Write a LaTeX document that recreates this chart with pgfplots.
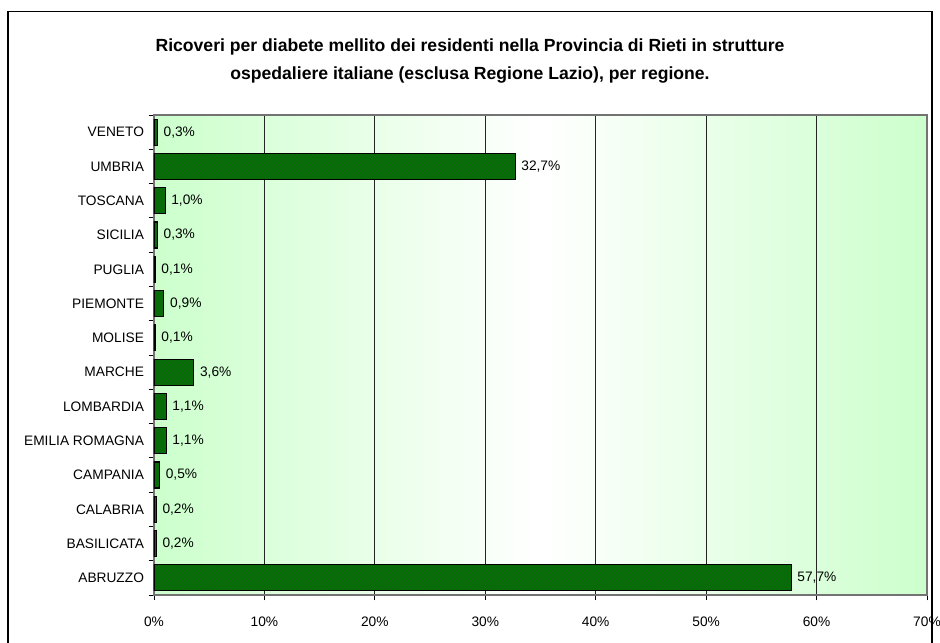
\documentclass[border=0pt]{standalone}
\usepackage{pgfplots}
\pgfplotsset{compat=1.18}
\usepackage{fontspec}
\setmainfont{Liberation Sans}
\usetikzlibrary{patterns}
\definecolor{barg}{RGB}{0,112,0}
\definecolor{bgg}{RGB}{204,255,204}
\begin{document}
\begin{tikzpicture}
\useasboundingbox (0,0) rectangle (705pt,-482.25pt);
\draw[line width=1pt] (6pt,-495pt) -- (6pt,-8.5pt) -- (699pt,-8.5pt) -- (699pt,-495pt);
\node[font=\bfseries\fontsize{13.2}{21}\selectfont, align=center] at (352.5pt,-46pt)
  {Ricoveri per diabete mellito dei residenti nella Provincia di Rieti in strutture\\ospedaliere italiane (esclusa Regione Lazio), per regione.};
\begin{axis}[
  at={(115.5pt,-446.25pt)}, anchor=south west,
  width=579.75pt, height=360pt, scale only axis,
  xbar, bar width=19.5pt,
  xmin=0, xmax=70, ymin=-0.5, ymax=13.5,
  /pgf/number format/assume math mode=true,
  font=\fontsize{10.3}{12}\selectfont,
  tick label style={font=\fontsize{10.3}{12}\selectfont},
  xtick={0,10,...,70},
  xticklabel={\pgfmathprintnumber{\tick}\%},
  ytick={-0.5,0.5,...,13.5},
  yticklabels={},
  extra y ticks={0,1,...,13},
  extra y tick labels={ABRUZZO,BASILICATA,CALABRIA,CAMPANIA,EMILIA ROMAGNA,LOMBARDIA,MARCHE,MOLISE,PIEMONTE,PUGLIA,SICILIA,TOSCANA,UMBRIA,VENETO},
  extra y tick style={major tick length=0pt, yticklabel style={xshift=-4pt}},
  tick pos=left,
  tick align=outside,
  major tick length=4pt,
  tick style={black, line width=0.6pt},
  xmajorgrids,
  major grid style={black!85, line width=0.6pt},
  axis line style={black!55, line width=0.8pt},
  axis background/.style={left color=bgg, right color=bgg, middle color=white},
  xticklabel style={yshift=-9pt},
  point meta=x,
  nodes near coords={\pgfmathprintnumber[fixed,fixed zerofill,precision=1,use comma]{\pgfplotspointmeta}\%},
  nodes near coords align={horizontal},
  every node near coord/.append style={font=\fontsize{10.3}{12}\selectfont, black, xshift=1pt},
]
\addplot[fill=barg, draw=black, line width=0.8pt, postaction={pattern=crosshatch dots, pattern color=black!70}]
  coordinates {(57.7,0) (0.2,1) (0.2,2) (0.5,3) (1.1,4) (1.1,5) (3.6,6) (0.1,7) (0.9,8) (0.1,9) (0.3,10) (1.0,11) (32.7,12) (0.3,13)};
\end{axis}
\end{tikzpicture}
\end{document}
